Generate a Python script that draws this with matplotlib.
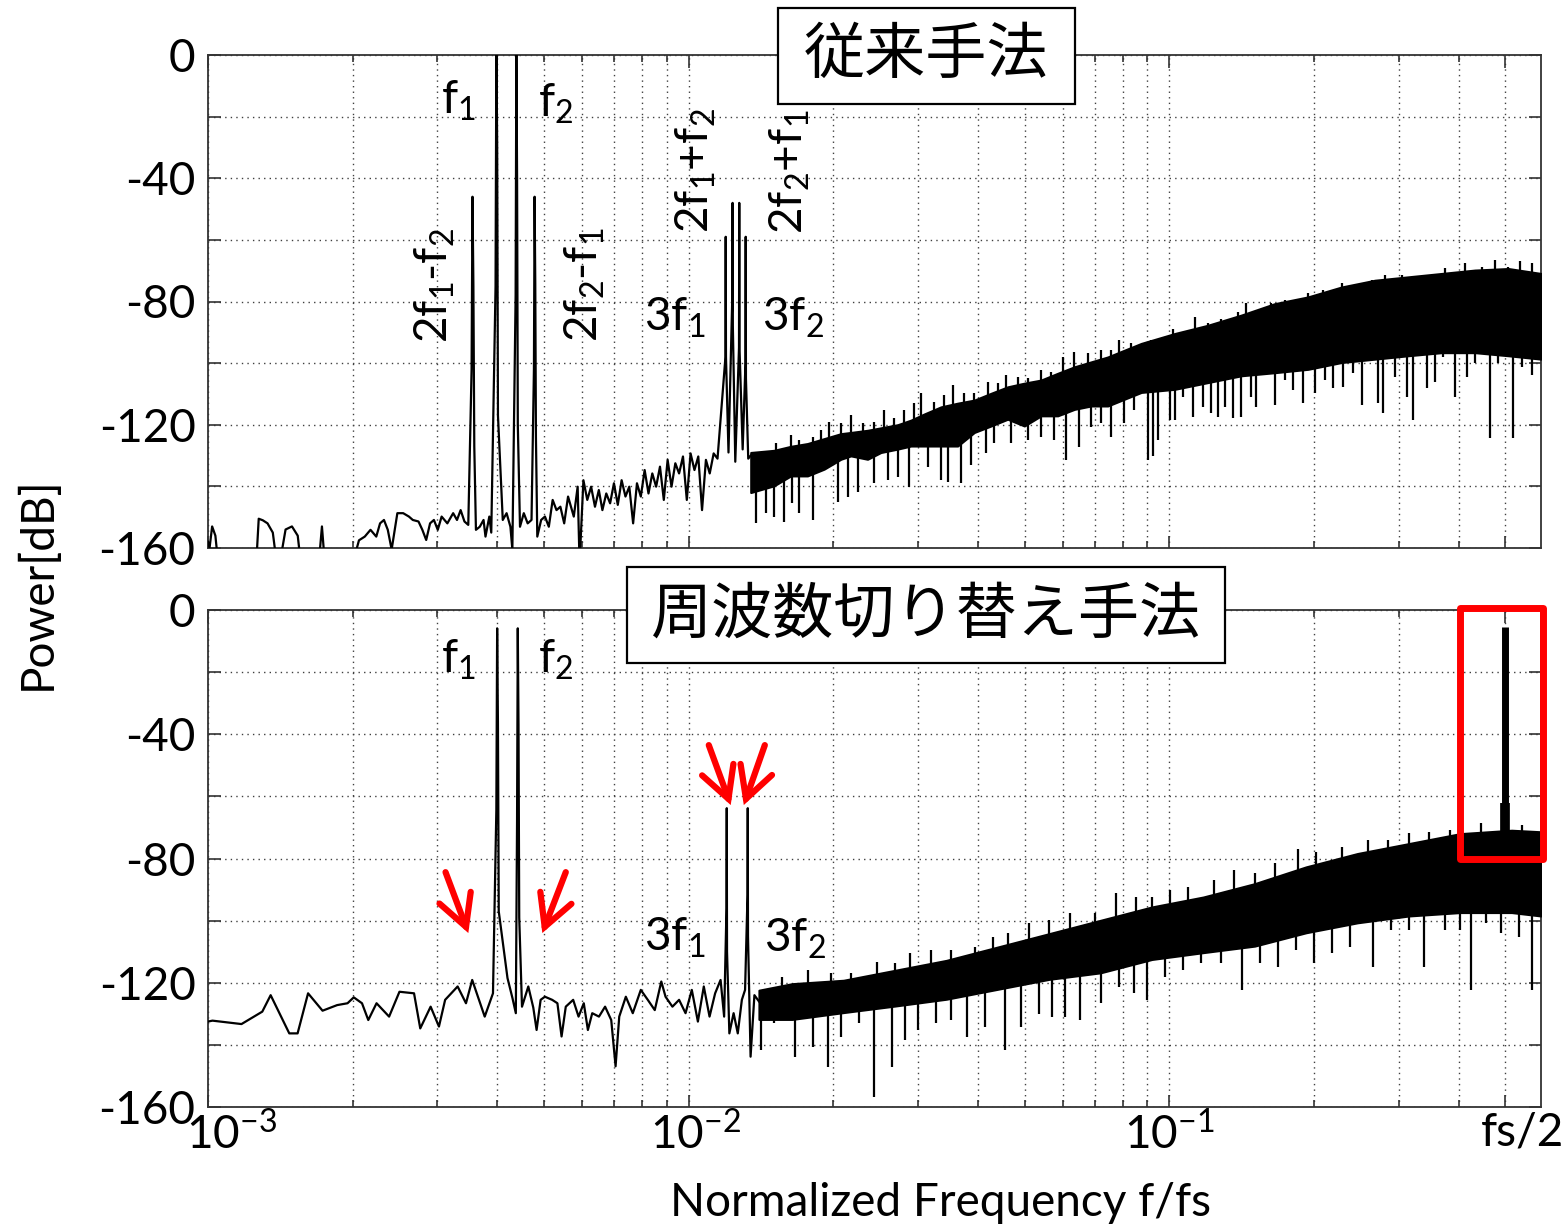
import numpy as np
import matplotlib
matplotlib.use("Agg")
import matplotlib.pyplot as plt
from matplotlib.patches import Rectangle
from matplotlib.ticker import FixedLocator, LogLocator, NullFormatter, FixedFormatter
from matplotlib.transforms import ScaledTranslation

plt.rcParams['font.family'] = ['Lato', 'Noto Sans CJK JP', 'DejaVu Sans']
plt.rcParams['mathtext.default'] = 'regular'

# FFT bin spacing used for the leakage bins of each tone
BIN = 1.53e-5

# ---------------- top: conventional method ----------------
top_line_f = [1.000e-3, 1.0075e-3, 1.020e-3, 1.036e-3, 1.050e-3, 1.26e-3, 1.275e-3, 1.30e-3,
              1.33e-3, 1.364e-3, 1.39e-3, 1.41e-3, 1.45e-3, 1.495e-3, 1.537e-3, 1.56e-3,
              1.70e-3, 1.726e-3, 1.75e-3, 2.0e-3, 2.061e-3, 2.119e-3, 2.178e-3, 2.239e-3,
              2.28e-3, 2.323e-3, 2.366e-3, 2.41e-3, 2.477e-3, 2.547e-3, 2.618e-3, 2.667e-3,
              2.741e-3, 2.792e-3, 2.844e-3, 2.897e-3, 2.951e-3, 3.006e-3, 3.062e-3, 3.147e-3,
              3.236e-3, 3.296e-3, 3.354e-3, 3.416e-3, 3.479e-3,
              3.609e-3, 3.676e-3, 3.743e-3, 3.778e-3, 3.848e-3, 3.884e-3,
              4.104e-3, 4.18e-3, 4.257e-3, 4.297e-3,
              4.457e-3, 4.539e-3, 4.624e-3, 4.71e-3,
              4.842e-3, 4.932e-3, 5.023e-3, 5.117e-3, 5.212e-3, 5.309e-3, 5.408e-3, 5.508e-3,
              5.611e-3, 5.767e-3, 5.875e-3, 5.929e-3, 6.039e-3, 6.152e-3, 6.266e-3, 6.383e-3,
              6.502e-3, 6.614e-3, 6.738e-3, 6.863e-3, 6.99e-3, 7.12e-3, 7.252e-3, 7.387e-3,
              7.523e-3, 7.663e-3, 7.805e-3, 7.95e-3, 8.098e-3, 8.248e-3, 8.40e-3, 8.556e-3,
              8.715e-3, 8.876e-3, 9.04e-3, 9.21e-3, 9.38e-3, 9.55e-3, 9.73e-3, 9.91e-3,
              10.09e-3, 10.28e-3, 10.47e-3, 10.66e-3, 10.86e-3, 11.06e-3, 11.27e-3, 11.48e-3,
              12.10e-3, 12.5e-3, 12.95e-3, 13.3e-3, 13.46e-3]
top_line_db = [-158, -160, -153, -156, -165, -165, -150.5, -151,
               -152, -155, -165, -165, -154, -153, -156, -165,
               -165, -153, -165, -165, -157.5, -156.3, -154.1, -156.3,
               -152, -150.9, -154.1, -160.5, -148.7, -148.7, -149.8, -150.9,
               -151.4, -154.1, -157.4, -152, -150.9, -154.1, -149.8, -152,
               -148.7, -150.9, -147.7, -151.4, -152.5,
               -154.1, -153.1, -150.9, -156.3, -149.8, -155,
               -150.9, -148.7, -153.1, -160.5,
               -153.1, -148.7, -152.0, -150.9,
               -156.3, -150.9, -149.8, -153.1, -144.4, -147.7, -146.6, -152.0,
               -143.3, -149.8, -140.1, -165, -138.0, -144.4, -140.1, -146.6,
               -141.2, -147.7, -142.3, -145.5, -139.0, -146.0, -138.0, -143.3,
               -140.1, -152.0, -139.0, -143.3, -134.7, -142.3, -135.8, -140.1,
               -133.6, -144.4, -131.4, -140.1, -132.5, -135.8, -130.3, -144.4,
               -129.3, -134.7, -130.3, -147.7, -131.4, -135.8, -129.3, -131,
               -129, -132, -128, -131, -130]

# tones: 2f1-f2, f1, f2, 2f2-f1, 3f1, 2f1+f2, 2f2+f1, 3f2
top_spike_f = [3.55e-3, 3.98e-3, 4.38e-3, 4.78e-3, 11.94e-3, 12.34e-3, 12.74e-3, 13.14e-3]
top_spike_db = [[-102, -46, -75, -127],
                [-75, 2, -29, -117],
                [-78, 2, -40, -120],
                [-102, -46, -74, -124],
                [-98, -59, -98],
                [-78, -48, -88],
                [-95, -48, -95],
                [-100, -59, -105]]

# solid core of the dense noise floor
top_band_f = [0.01346, 0.015057, 0.016310, 0.017667, 0.019137, 0.020728, 0.021746, 0.023555,
              0.025110, 0.027200, 0.028995, 0.030911, 0.033480, 0.036266, 0.039283, 0.042551,
              0.046091, 0.049926, 0.054079, 0.058578, 0.063452, 0.068731, 0.074448, 0.080643,
              0.087416, 0.10257, 0.12034, 0.14120, 0.16567, 0.19439, 0.22807, 0.26760,
              0.31398, 0.36839, 0.43224, 0.50714, 0.593]
top_band_hi = [-129, -128.3, -127, -126.1, -124.5, -122.9, -122.5, -121.8,
               -121.0, -120, -118.5, -116.5, -114.2, -113.0, -112.0, -109.8,
               -107.7, -106.5, -105.5, -103.3, -101.2, -99.6, -98.0, -95.8,
               -93.6, -90.4, -87.7, -84.4, -80.7, -78.5, -75.3, -73.1,
               -72.0, -70.9, -69.8, -69.3, -70.9]
top_band_lo = [-142.0, -139.8, -136.6, -136.6, -134.4, -131.2, -130.1, -131.2,
               -129.0, -127.9, -126.9, -126.9, -126.9, -126.9, -122.5, -120.4,
               -118.2, -120.4, -117.1, -117.1, -115.0, -113.9, -113.9, -111.7,
               -109.5, -108.5, -106.3, -104.1, -103.1, -102.0, -99.8, -98.7,
               -97.6, -96.6, -96.6, -97.6, -98.7]

# upward and downward excursions of the noise floor
top_up_f = [0.014125, 0.015178, 0.016310, 0.016975, 0.018096, 0.018834, 0.019602, 0.020728,
            0.021746, 0.022998, 0.024320, 0.025515, 0.026768, 0.028082, 0.029462, 0.030419,
            0.032427, 0.034020, 0.035409, 0.037444, 0.039283, 0.041877, 0.043934, 0.045726,
            0.048356, 0.050731, 0.054079, 0.056736, 0.060000, 0.063452, 0.067642, 0.072107,
            0.075648, 0.078737, 0.083262, 0.091711, 0.10175, 0.10761, 0.11290, 0.12034,
            0.12829, 0.13896, 0.14463, 0.15295, 0.16304, 0.17381, 0.18235, 0.19439,
            0.20889, 0.22807, 0.23737, 0.26335, 0.28075, 0.30410, 0.32418, 0.35116,
            0.37433, 0.41201, 0.44629, 0.47575, 0.50714, 0.53635, 0.56719, 0.59031]
top_up_db = [-129.3, -126.0, -123.3, -124.9, -123.9, -121.7, -119.0, -119.5,
             -116.8, -119.5, -119.0, -115.2, -117.9, -115.2, -113.0, -109.8,
             -112.5, -110.3, -107.1, -109.8, -109.8, -106.0, -106.5, -103.8,
             -104.4, -104.9, -102.2, -102.8, -97.9, -96.3, -96.8, -95.7,
             -95.7, -92.5, -93.6, -92.5, -89.0, -89.8, -85.1, -87.1,
             -85.8, -83.3, -80.6, -83.3, -80.6, -79.5, -80.0, -77.3,
             -76.3, -74.1, -74.6, -73.0, -71.4, -71.4, -71.9, -71.9,
             -69.2, -67.6, -68.7, -66.5, -68.7, -66.7, -67.6, -70.8]
top_dip_f = [0.013791, 0.014468, 0.015057, 0.015797, 0.016441, 0.016975, 0.018096, 0.020399,
             0.021401, 0.022453, 0.024320, 0.025926, 0.027200, 0.028763, 0.031408, 0.033480,
             0.034568, 0.036850, 0.038659, 0.041547, 0.043238, 0.046834, 0.050731, 0.054079,
             0.057650, 0.060968, 0.064994, 0.068731, 0.072107, 0.075648, 0.080643, 0.084603,
             0.090257, 0.092451, 0.094690, 0.10014, 0.10257, 0.10675, 0.11200, 0.11750,
             0.12228, 0.12625, 0.13035, 0.13567, 0.14120, 0.14814, 0.15173, 0.16567,
             0.17381, 0.18089, 0.18979, 0.20071, 0.21057, 0.21916, 0.22990, 0.24121,
             0.25103, 0.27191, 0.27852, 0.29454, 0.31149, 0.32161, 0.34284, 0.35681,
             0.37134, 0.39272, 0.41532, 0.43224, 0.46449, 0.48342, 0.51946, 0.54063, 0.56719]
top_dip_db = [-152.0, -148.7, -149.8, -151.4, -145.5, -148.7, -150.9, -145.0,
              -143.3, -141.7, -139.0, -137.9, -136.8, -140.1, -133.6, -137.9,
              -138.5, -139.0, -133.0, -129.3, -126.0, -126.0, -124.9, -123.9,
              -124.9, -131.4, -127.1, -120.6, -119.5, -123.9, -119.5, -115.2,
              -131.4, -130.3, -124.9, -118.4, -118.4, -110.9, -117.4, -114.1,
              -116.3, -117.4, -114.1, -117.9, -117.4, -110.9, -114.1, -113.6,
              -105.5, -108.7, -113.0, -109.8, -105.5, -108.1, -107.6, -103.3,
              -113.6, -113.0, -116.3, -104.4, -110.9, -118.4, -108.1, -106.0,
              -97.9, -110.9, -104.4, -100.1, -124.4, -100.1, -124.4, -101.1, -103.8]

# ---------------- bottom: frequency switching method ----------------
bot_line_f = [1.000e-3, 1.0216e-3, 1.174e-3, 1.297e-3, 1.350e-3, 1.476e-3, 1.536e-3, 1.615e-3,
              1.731e-3, 1.856e-3, 1.951e-3, 2.010e-3, 2.091e-3, 2.155e-3, 2.242e-3, 2.381e-3,
              2.502e-3, 2.683e-3, 2.764e-3, 2.905e-3, 3.023e-3, 3.114e-3, 3.306e-3, 3.441e-3,
              3.545e-3, 3.764e-3, 3.916e-3,
              4.198e-3, 4.30e-3, 4.369e-3,
              4.50e-3, 4.638e-3, 4.75e-3, 4.826e-3, 4.92e-3, 5.022e-3, 5.20e-3, 5.332e-3,
              5.439e-3, 5.55e-3, 5.75e-3, 5.90e-3, 6.05e-3, 6.17e-3, 6.30e-3, 6.506e-3,
              6.70e-3, 6.90e-3, 7.045e-3, 7.17e-3, 7.40e-3, 7.65e-3, 7.95e-3, 8.22e-3,
              8.50e-3, 8.77e-3, 8.95e-3, 9.25e-3, 9.55e-3, 9.85e-3, 10.15e-3, 10.45e-3,
              10.75e-3, 11.05e-3, 11.35e-3, 11.65e-3, 11.85e-3,
              12.15e-3, 12.4e-3, 12.65e-3, 12.9e-3, 13.1e-3,
              13.45e-3, 13.7e-3, 14.0e-3]
bot_line_db = [-132.5, -132.2, -133.3, -129.3, -124.0, -136.3, -136.3, -123.4,
               -129.0, -127.2, -126.6, -124.7, -126.6, -132.0, -126.6, -130.9,
               -122.9, -123.4, -134.7, -127.7, -134.1, -125.5, -121.2, -126.6,
               -119.1, -130.9, -123.4,
               -118.5, -125, -129.8,
               -127.7, -121.2, -128, -135.2, -125.5, -124.5, -125.5, -126.6,
               -137.3, -127.7, -125.5, -130.9, -126.6, -135.2, -129.8, -130.9,
               -127.7, -132.0, -146.9, -130.9, -124.5, -129.8, -122.3, -125.5,
               -128.8, -119.6, -124.5, -127.7, -125.5, -129.8, -122.3, -132.5,
               -121.2, -130.9, -123.4, -119.1, -130.9,
               -136.3, -129.8, -136.3, -125.5, -122.3,
               -143.8, -124.0, -126.0]

# tones: f1, f2, 3f1, 3f2
bot_spike_f = [3.995e-3, 4.41e-3, 12.0e-3, 13.27e-3]
bot_spike_db = [[-64.4, -5.9, -36.5, -97],
                [-68, -5.9, -37, -99],
                [-96, -63.8, -110],
                [-91.7, -63.8, -105]]

bot_band_f = [0.0140, 0.016415, 0.020997, 0.026858, 0.034354, 0.043943, 0.056208, 0.071897,
              0.091964, 0.11763, 0.15047, 0.19246, 0.24618, 0.31490, 0.40279, 0.51522, 0.593]
bot_band_hi = [-122.4, -120.3, -119.2, -116.0, -112.8, -108.5, -104.2, -99.9,
               -95.6, -92.4, -88.1, -82.7, -78.4, -75.2, -72.0, -70.9, -71.4]
bot_band_lo = [-131.8, -131.8, -129.6, -127.5, -125.3, -122.1, -118.9, -116.8,
               -112.5, -110.3, -108.2, -103.9, -100.7, -98.5, -97.4, -97.4, -98.5]

bot_up_f = [0.015627, 0.017673, 0.019746, 0.021787, 0.024638, 0.026858, 0.028917, 0.031910,
            0.035211, 0.039339, 0.042876, 0.046161, 0.050939, 0.056208, 0.062026, 0.070151,
            0.077409, 0.085421, 0.091964, 0.10024, 0.10926, 0.12357, 0.13636, 0.15047,
            0.16604, 0.18552, 0.20218, 0.22866, 0.25861, 0.28537, 0.31490, 0.34749,
            0.38346, 0.44448, 0.54123, 0.58272]
bot_up_db = [-118.1, -115.9, -117.0, -117.0, -113.2, -113.8, -110.5, -109.5,
             -109.5, -108.4, -105.2, -104.1, -100.9, -99.8, -97.7, -97.7,
             -91.2, -92.3, -92.3, -90.1, -89.1, -86.9, -83.7, -84.8,
             -81.6, -76.8, -77.8, -76.2, -74.1, -74.1, -71.9, -71.4,
             -70.8, -68.7, -69.1, -71.4]
bot_dip_f = [0.014161, 0.015058, 0.016619, 0.018114, 0.019503, 0.020745, 0.022607, 0.024340,
             0.026536, 0.028214, 0.030003, 0.032706, 0.035211, 0.037910, 0.041325, 0.045595,
             0.049089, 0.053510, 0.056905, 0.060517, 0.065156, 0.071897, 0.078368, 0.084364,
             0.089733, 0.097804, 0.10661, 0.11622, 0.12822, 0.14150, 0.15422, 0.16809,
             0.18323, 0.19970, 0.21767, 0.23728, 0.26505, 0.28887, 0.31490, 0.33904,
             0.37413, 0.40279, 0.42312, 0.45556, 0.49049, 0.53459, 0.56855]
bot_dip_db = [-141.7, -133.1, -143.8, -140.6, -147.0, -137.4, -133.1, -156.7,
              -147.0, -138.4, -135.2, -133.1, -132.0, -137.4, -134.2, -141.7,
              -134.2, -129.9, -130.9, -130.9, -132.0, -126.6, -121.3, -123.4,
              -125.6, -118.1, -115.9, -113.8, -113.8, -122.3, -113.8, -114.8,
              -109.5, -113.8, -110.5, -108.4, -114.8, -103.0, -103.0, -114.8,
              -103.0, -103.0, -122.3, -100.9, -104.1, -105.2, -122.3]

# switched tone moved to fs/2
fs2_f = 0.5
fs2_peak_db = -5.5
fs2_side_db = -62


def trace(line_f, line_db, spike_f, spike_db):
    f = list(line_f)
    d = list(line_db)
    for fc, levels in zip(spike_f, spike_db):
        c = levels.index(max(levels))
        for k, lv in enumerate(levels):
            f.append(fc + (k - c) * BIN)
            d.append(lv)
    order = np.argsort(f)
    return np.array(f)[order], np.array(d)[order]


def draw_spectrum(ax, line_f, line_db, spike_f, spike_db, band_f, band_hi, band_lo,
                  dip_f, dip_db, up_f, up_db):
    f, d = trace(line_f, line_db, spike_f, spike_db)
    ax.plot(f, d, color='k', lw=1.6, zorder=3)
    ax.fill_between(band_f, band_lo, band_hi, color='k', lw=1.5, zorder=3)
    lf = np.log10(band_f)
    lo_at = np.interp(np.log10(dip_f), lf, band_lo) + 3
    hi_at = np.interp(np.log10(up_f), lf, band_hi) - 3
    ax.vlines(dip_f, dip_db, lo_at, color='k', lw=1.6, zorder=3)
    ax.vlines(up_f, hi_at, up_db, color='k', lw=1.6, zorder=3)


def style_axes(ax, show_xlabels):
    ax.set_xscale('log')
    ax.set_xlim(1e-3, 0.593)
    ax.set_ylim(-160, 0)
    yt = np.arange(-160, 1, 20)
    ax.yaxis.set_major_locator(FixedLocator(yt))
    ax.yaxis.set_major_formatter(FixedFormatter([str(v) if v % 40 == 0 else '' for v in yt]))
    ax.xaxis.set_major_locator(FixedLocator([1e-3, 1e-2, 1e-1, 0.5]))
    if show_xlabels:
        ax.xaxis.set_major_formatter(FixedFormatter(['10$^{-3}$', '10$^{-2}$', '10$^{-1}$', 'fs/2']))
    else:
        ax.xaxis.set_major_formatter(NullFormatter())
    ax.xaxis.set_minor_locator(LogLocator(base=10, subs=np.arange(2, 10), numticks=20))
    ax.xaxis.set_minor_formatter(NullFormatter())
    ax.tick_params(which='both', direction='in', top=True, right=True, labelsize=33,
                   color='0.2', width=1.2)
    ax.tick_params(which='major', length=9)
    ax.tick_params(which='minor', length=5)
    ax.tick_params(axis='y', pad=9)
    ax.tick_params(axis='x', pad=3)
    ax.grid(True, which='both', axis='x', ls=(0, (1, 3)), color='0.25', lw=1.0)
    ax.grid(True, which='major', axis='y', ls=(0, (1, 3)), color='0.25', lw=1.0)
    ax.set_axisbelow(True)
    for s in ax.spines.values():
        s.set_linewidth(1.3)
        s.set_color('0.2')


fig = plt.figure(figsize=(15.66, 12.32), dpi=100)
W, H = 1566, 1232
ax1 = fig.add_axes([208 / W, 1 - 548 / H, 1333 / W, 493 / H])
ax2 = fig.add_axes([208 / W, 1 - 1107 / H, 1333 / W, 497 / H])

draw_spectrum(ax1, top_line_f, top_line_db, top_spike_f, top_spike_db,
              top_band_f, top_band_hi, top_band_lo, top_dip_f, top_dip_db, top_up_f, top_up_db)
draw_spectrum(ax2, bot_line_f, bot_line_db, bot_spike_f, bot_spike_db,
              bot_band_f, bot_band_hi, bot_band_lo, bot_dip_f, bot_dip_db, bot_up_f, bot_up_db)

fs2_base = np.interp(np.log10(fs2_f), np.log10(bot_band_f), bot_band_hi)
ax2.vlines(fs2_f, fs2_base, fs2_side_db, color='k', lw=7, zorder=3)
ax2.vlines(fs2_f, fs2_base, fs2_peak_db, color='k', lw=5, zorder=3)

style_axes(ax1, False)
style_axes(ax2, True)

# the original tick labels sit a little right of their ticks
label_shift = {'10$^{-3}$': 0.24, '10$^{-2}$': 0.07, 'fs/2': 0.17}
for lab in ax2.get_xticklabels():
    dx = label_shift.get(lab.get_text(), 0)
    if dx:
        lab.set_transform(lab.get_transform() + ScaledTranslation(dx, 0, fig.dpi_scale_trans))

fs_lab = 33
# tone labels, top
ax1.text(3.32e-3, -15, 'f$_1$', fontsize=fs_lab, ha='center', va='center')
ax1.text(5.28e-3, -16, 'f$_2$', fontsize=fs_lab, ha='center', va='center')
ax1.text(2.97e-3, -74.6, '2f$_1$-f$_2$', fontsize=fs_lab, ha='center', va='center', rotation=90)
ax1.text(6.09e-3, -74.6, '2f$_2$-f$_1$', fontsize=fs_lab, ha='center', va='center', rotation=90)
ax1.text(9.35e-3, -85.4, '3f$_1$', fontsize=fs_lab, ha='center', va='center')
ax1.text(0.01648, -85.4, '3f$_2$', fontsize=fs_lab, ha='center', va='center')
ax1.text(0.01035, -37.6, '2f$_1$+f$_2$', fontsize=fs_lab, ha='center', va='center', rotation=90)
ax1.text(0.01622, -38, '2f$_2$+f$_1$', fontsize=fs_lab, ha='center', va='center', rotation=90)
# tone labels, bottom
ax2.text(3.32e-3, -16, 'f$_1$', fontsize=fs_lab, ha='center', va='center')
ax2.text(5.28e-3, -16, 'f$_2$', fontsize=fs_lab, ha='center', va='center')
ax2.text(9.35e-3, -105.6, '3f$_1$', fontsize=fs_lab, ha='center', va='center')
ax2.text(0.0166, -105.8, '3f$_2$', fontsize=fs_lab, ha='center', va='center')

# red arrows on the bottom panel
arrow_tail = [(3.12e-3, -84.4), (5.55e-3, -84.4), (0.01101, -43.5), (0.01440, -43.5)]
arrow_tip = [(3.48e-3, -104), (4.96e-3, -104), (0.01223, -62.8), (0.01302, -62.8)]
for tail, tip in zip(arrow_tail, arrow_tip):
    ax2.annotate('', xy=tip, xytext=tail, zorder=6,
                 arrowprops=dict(arrowstyle='->,head_length=0.56,head_width=0.3',
                                 color='#ff0000', lw=4.5, mutation_scale=40,
                                 shrinkA=0, shrinkB=0, joinstyle='miter'))

# red box around the fs/2 tone
ax2.add_patch(Rectangle((0.403, -80), 0.600 - 0.403, 80.6, fill=False, ec='#ff0000',
                        lw=5, clip_on=False, zorder=7, joinstyle='round'))

# title boxes
for (x0, y0, x1, y1), title in [((778, 8, 1075, 104), '従来手法'),
                                ((627, 567, 1225, 663), '周波数切り替え手法')]:
    fig.add_artist(Rectangle((x0 / W, 1 - y1 / H), (x1 - x0) / W, (y1 - y0) / H,
                             transform=fig.transFigure, fc='white', ec='black', lw=1.6, zorder=5))
    fig.text((x0 + x1) / 2 / W, 1 - (y0 + y1) / 2 / H, title, fontsize=44,
             family=['Noto Sans CJK JP'], ha='center', va='center', zorder=6)

fig.text(37 / W, 1 - 583 / H, 'Power[dB]', rotation=90, ha='center', va='center', fontsize=33)
fig.text(940 / W, 1 - 1203 / H, 'Normalized Frequency f/fs', ha='center', va='center', fontsize=33)

fig.savefig('out.png', dpi=100)
